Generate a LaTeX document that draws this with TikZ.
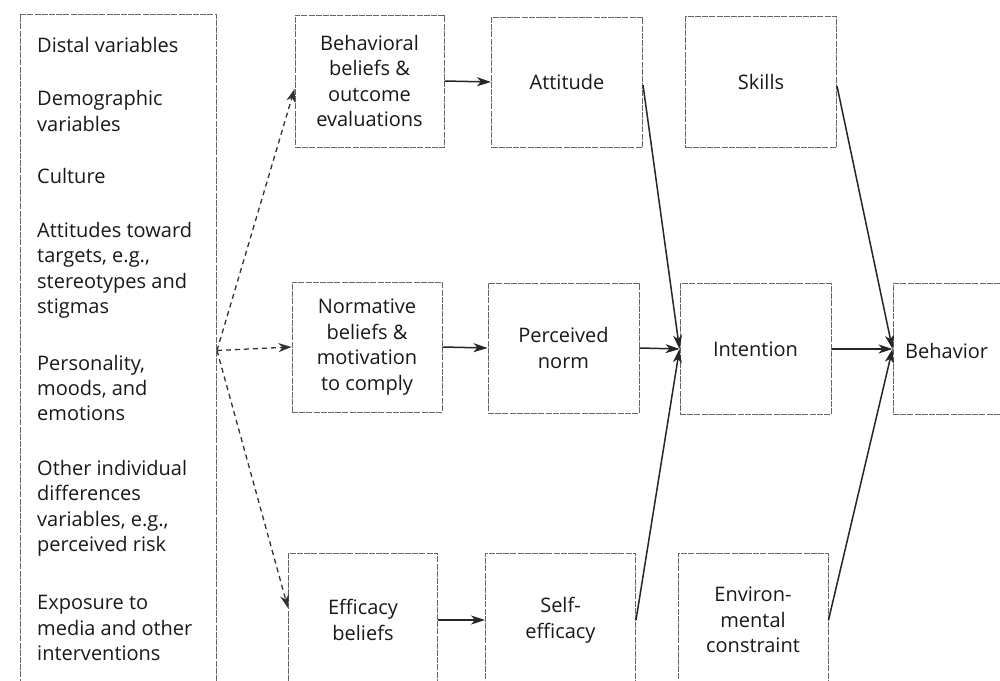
\documentclass[tikz,border=0pt]{standalone}
\usepackage{fontspec}
\setmainfont{Open Sans}
\usetikzlibrary{arrows.meta,calc}
\begin{document}
\begin{tikzpicture}[x=1pt,y=-1pt,
  box/.style={draw=black!60, line width=1pt, dash pattern=on 6pt off 1.2pt,
    rectangle, inner sep=0pt, align=center, text=black!90,
    font=\fontsize{20}{25.5}\selectfont},
  lt/.style={anchor=base west, inner sep=0pt, text=black!90, font=\fontsize{20}{25.5}\selectfont},
  flow/.style={draw=black!85, line width=1.5pt, -{Stealth[length=14pt,width=9pt,inset=4pt]}},
  dflow/.style={draw=black!80, line width=1.3pt, dash pattern=on 5pt off 4pt,
    -{Stealth[length=13pt,width=9pt,inset=4pt]}}]
\useasboundingbox (0,0) rectangle (1000,680);
\fill[white] (0,0) rectangle (1000,680);
\clip (0,0) rectangle (1000,680);

% left box
\node[box, minimum width=196pt, minimum height=672pt, anchor=north west] (dist) at (20,14) {};
\foreach \yy/\tx in {52/{Distal variables}, 105/{Demographic}, 131/{variables},
  183/{Culture}, 237/{Attitudes toward}, 262/{targets, e.g.,}, 288/{stereotypes and},
  313/{stigmas}, 370/{Personality,}, 395/{moods, and}, 420/{emotions},
  475/{Other individual}, 500/{differences}, 526/{variables, e.g.,}, 551/{perceived risk},
  609/{Exposure to}, 635/{media and other}, 660/{interventions}}
  \node[lt] (l\yy) at (37,\yy) {\tx};

% column 2
\node[box, minimum width=149pt, minimum height=132pt] (beh) at (369.5,81) {Behavioral\\beliefs \&\\outcome\\evaluations};
\node[box, minimum width=150pt, minimum height=130pt] (nor) at (367,347) {Normative\\beliefs \&\\motivation\\to comply};
\node[box, minimum width=149pt, minimum height=134pt] (eff) at (363,620) {Efficacy\\beliefs};

% column 3
\node[box, minimum width=151pt, minimum height=130pt] (att) at (567,82) {Attitude};
\node[box, minimum width=151pt, minimum height=130pt] (per) at (563.5,348) {Perceived\\norm};
\node[box, minimum width=150pt, minimum height=134pt] (sef) at (560.5,620) {Self-\\efficacy};

% column 4
\node[box, minimum width=151pt, minimum height=131pt] (ski) at (761,82) {Skills};
\node[box, minimum width=151pt, minimum height=131pt] (int) at (755.5,349) {Intention};
\node[box, minimum width=150pt, minimum height=134pt] (env) at (753,620) {Environ-\\mental\\constraint};

% column 5
\node[box, minimum width=150pt, minimum height=131pt] (bhv) at (968,349) {};
\node[lt] (bhvt) at (905,358) {Behavior};

% dashed arrows
\draw[dflow] (dist.east) -- ($(beh.west)+(0,8)$);
\draw[dflow] (dist.east) -- (nor.west);
\draw[dflow] (dist.east) -- ($(eff.west)+(0,-12)$);

% solid arrows
\draw[flow] (beh.east) -- (att.west);
\draw[flow] (nor.east) -- (per.west);
\draw[flow] (eff.east) -- (sef.west);
\draw[flow] (per.east) -- (int.west);
\draw[flow] ($(att.east)+(0,3)$) -- (int.west);
\draw[flow] (sef.east) -- (int.west);
\draw[flow] (int.east) -- (bhv.west);
\draw[flow] ($(ski.east)+(0,4)$) -- (bhv.west);
\draw[flow] (env.east) -- (bhv.west);
\end{tikzpicture}
\end{document}
